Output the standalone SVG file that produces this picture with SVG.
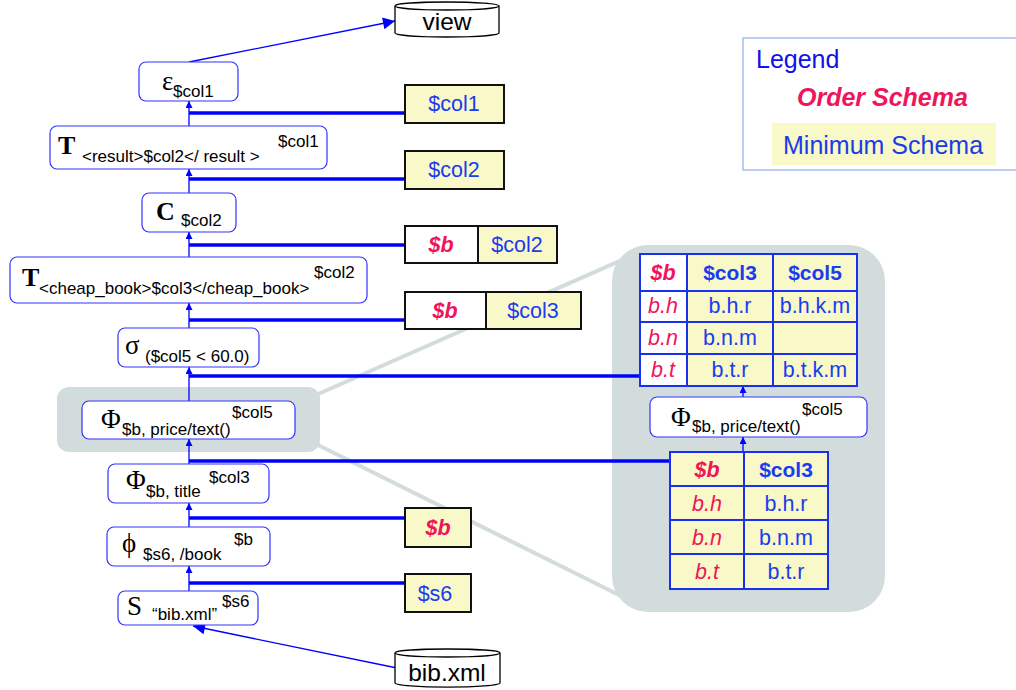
<svg xmlns="http://www.w3.org/2000/svg" width="1016" height="690" viewBox="0 0 1016 690">
<defs>
<marker id="ah" viewBox="0 0 10 10" refX="10" refY="5" markerWidth="7" markerHeight="7" markerUnits="userSpaceOnUse" orient="auto"><path d="M0,0 L10,5 L0,10 Z" fill="#0000ff"/></marker>
<marker id="ahb" viewBox="0 0 10 10" refX="10" refY="5" markerWidth="14" markerHeight="12" markerUnits="userSpaceOnUse" orient="auto"><path d="M0,0 L10,5 L0,10 Z" fill="#0000ff"/></marker>
<style>
.node{fill:#fff;stroke:#3333ff;stroke-width:1.2}
.sym{font-family:"Liberation Serif",serif;font-size:27px;fill:#000}
.symb{font-family:"Liberation Serif",serif;font-size:26px;font-weight:bold;fill:#000}
.sub{font-family:"Liberation Sans",Arial,sans-serif;font-size:17px;fill:#000}
.thin{stroke:#0000ff;stroke-width:1.3;fill:none}
.thick{stroke:#0000ff;stroke-width:3.5;fill:none}
.sbox{stroke:#111;stroke-width:2}
.yel{fill:#f8f8c8}
.wht{fill:#fff}
.bt{font-family:"Liberation Sans",Arial,sans-serif;font-size:21.5px;fill:#1a3cf0;text-anchor:middle}
.rt{font-family:"Liberation Sans",Arial,sans-serif;font-size:21.5px;font-weight:bold;font-style:italic;fill:#f0145a;text-anchor:middle}
.ri{font-family:"Liberation Sans",Arial,sans-serif;font-size:21.5px;font-style:italic;fill:#f0145a;text-anchor:middle}
.bb{font-family:"Liberation Sans",Arial,sans-serif;font-size:21px;font-weight:bold;fill:#1a3cf0;text-anchor:middle}
.tb{stroke:#1a30f0;stroke-width:2}
.gray{fill:#d2dcdc}
.cyl{fill:#fff;stroke:#000;stroke-width:1.3}
.ct{font-family:"Liberation Sans",Arial,sans-serif;font-size:24.5px;fill:#000;text-anchor:middle}
.lg{font-family:"Liberation Sans",Arial,sans-serif;font-size:25px}
</style>
</defs>
<rect width="1016" height="690" fill="#fff"/>

<g id="zoom-callout">
<line x1="316" y1="395" x2="640" y2="252" stroke="#d2dcdc" stroke-width="4"/>
<line x1="316" y1="444" x2="625" y2="598" stroke="#d2dcdc" stroke-width="4"/>
<rect class="gray" x="57" y="387" width="263" height="65" rx="12"/>
<rect class="gray" x="612" y="245" width="273" height="367" rx="36"/>
</g>

<g id="connectors">
<line class="thin" x1="189" y1="62" x2="395" y2="21" marker-end="url(#ahb)"/>
<line class="thin" x1="189" y1="126" x2="189" y2="101" marker-end="url(#ah)"/>
<line class="thin" x1="189" y1="193" x2="189" y2="169" marker-end="url(#ah)"/>
<line class="thin" x1="189" y1="257" x2="189" y2="232" marker-end="url(#ah)"/>
<line class="thin" x1="189" y1="328" x2="189" y2="303" marker-end="url(#ah)"/>
<line class="thin" x1="189" y1="401" x2="189" y2="367" marker-end="url(#ah)"/>
<line class="thin" x1="189" y1="464" x2="189" y2="439" marker-end="url(#ah)"/>
<line class="thin" x1="189" y1="527" x2="189" y2="503" marker-end="url(#ah)"/>
<line class="thin" x1="189" y1="591" x2="189" y2="566" marker-end="url(#ah)"/>
<line class="thin" x1="397" y1="668" x2="193" y2="626" marker-end="url(#ahb)"/>
<line class="thin" x1="743" y1="452" x2="743" y2="437" marker-end="url(#ah)"/>
<line class="thin" x1="743" y1="397" x2="743" y2="386" marker-end="url(#ah)"/>
<line class="thick" x1="189" y1="113" x2="405" y2="113"/>
<line class="thick" x1="189" y1="179" x2="405" y2="179"/>
<line class="thick" x1="189" y1="245" x2="405" y2="245"/>
<line class="thick" x1="189" y1="320" x2="405" y2="320"/>
<line class="thick" x1="189" y1="376" x2="640" y2="376"/>
<line class="thick" x1="189" y1="461" x2="670" y2="461"/>
<line class="thick" x1="189" y1="518" x2="405" y2="518"/>
<line class="thick" x1="189" y1="583" x2="405" y2="583"/>
</g>

<g id="view">
<path class="cyl" d="M395,6 L395,33 A52,4 0 0 0 499,33 L499,6 A52,4 0 0 0 395,6 Z"/>
<path class="cyl" d="M395,6 A52,4 0 0 0 499,6" fill="none"/>
<text class="ct" x="447" y="30">view</text>
</g>

<g id="bibxml">
<path class="cyl" d="M395,653 L395,683 A52,4 0 0 0 500,683 L500,653 A52.5,4 0 0 0 395,653 Z"/>
<path class="cyl" d="M395,653 A52.5,4 0 0 0 500,653" fill="none"/>
<text class="ct" x="447" y="681">bib.xml</text>
</g>

<g id="op-epsilon">
<rect class="node" x="139" y="62" width="99" height="39" rx="7"/>
<text class="sym" x="162" y="90" font-size="24">ε</text>
<text class="sub" x="173" y="97">$col1</text>
</g>

<g id="op-T-result">
<rect class="node" x="50" y="126" width="277" height="43" rx="7"/>
<text class="symb" x="58" y="154">T</text>
<text class="sub" x="82" y="162">&lt;result&gt;$col2&lt;/ result &gt;</text>
<text class="sub" x="278" y="147">$col1</text>
</g>

<g id="op-C">
<rect class="node" x="142" y="193" width="94" height="39" rx="7"/>
<text class="symb" x="156" y="220">C</text>
<text class="sub" x="181" y="226">$col2</text>
</g>

<g id="op-T-cheap">
<rect class="node" x="10" y="257" width="357" height="46" rx="7"/>
<text class="symb" x="22" y="286">T</text>
<text class="sub" x="39" y="294">&lt;cheap_book&gt;$col3&lt;/cheap_book&gt;</text>
<text class="sub" x="314" y="278">$col2</text>
</g>

<g id="op-sigma">
<rect class="node" x="118" y="328" width="141" height="39" rx="7"/>
<text class="sym" x="125" y="354">σ</text>
<text class="sub" x="145" y="362">($col5 &lt; 60.0)</text>
</g>

<g id="op-Phi-price">
<rect class="node" x="82" y="401" width="213" height="38" rx="7"/>
<text class="sym" x="101" y="428">Φ</text>
<text class="sub" x="122" y="435">$b, price/text()</text>
<text class="sub" x="232" y="418">$col5</text>
</g>

<g id="op-Phi-title">
<rect class="node" x="108" y="464" width="161" height="39" rx="7"/>
<text class="sym" x="126" y="489">Φ</text>
<text class="sub" x="146" y="497">$b, title</text>
<text class="sub" x="209" y="483">$col3</text>
</g>

<g id="op-phi-book">
<rect class="node" x="107" y="527" width="163" height="39" rx="7"/>
<text class="sym" x="122" y="552">ϕ</text>
<text class="sub" x="143" y="560">$s6, /book</text>
<text class="sub" x="234" y="545">$b</text>
</g>

<g id="op-S">
<rect class="node" x="118" y="591" width="140" height="34" rx="7"/>
<text class="sym" x="127" y="615">S</text>
<text class="sub" x="152" y="620">“bib.xml”</text>
<text class="sub" x="222" y="607">$s6</text>
</g>

<g id="schema-col1">
<rect class="sbox yel" x="405" y="85" width="99" height="38"/>
<text class="bt" x="454" y="111">$col1</text>
</g>
<g id="schema-col2">
<rect class="sbox yel" x="405" y="151" width="99" height="38"/>
<text class="bt" x="454" y="177">$col2</text>
</g>
<g id="schema-b-col2">
<rect class="sbox wht" x="405" y="226" width="73" height="37"/>
<rect class="sbox yel" x="478" y="226" width="79" height="37"/>
<text class="rt" x="441" y="252">$b</text>
<text class="bt" x="517" y="252">$col2</text>
</g>
<g id="schema-b-col3">
<rect class="sbox wht" x="405" y="292" width="81" height="37"/>
<rect class="sbox yel" x="486" y="292" width="95" height="37"/>
<text class="rt" x="445" y="318">$b</text>
<text class="bt" x="533" y="318">$col3</text>
</g>
<g id="schema-b">
<rect class="sbox yel" x="405" y="508" width="66" height="39"/>
<text class="rt" x="438" y="535">$b</text>
</g>
<g id="schema-s6">
<rect class="sbox yel" x="405" y="574" width="66" height="38"/>
<text class="bt" x="435" y="601">$s6</text>
</g>

<g id="table-top">
<rect class="tb wht" x="640" y="254" width="47" height="37"/>
<rect class="tb yel" x="687" y="254" width="86" height="37"/>
<rect class="tb yel" x="773" y="254" width="84" height="37"/>
<rect class="tb wht" x="640" y="291" width="47" height="31"/>
<rect class="tb yel" x="687" y="291" width="86" height="31"/>
<rect class="tb yel" x="773" y="291" width="84" height="31"/>
<rect class="tb wht" x="640" y="322" width="47" height="32"/>
<rect class="tb yel" x="687" y="322" width="86" height="32"/>
<rect class="tb yel" x="773" y="322" width="84" height="32"/>
<rect class="tb wht" x="640" y="354" width="47" height="32"/>
<rect class="tb yel" x="687" y="354" width="86" height="32"/>
<rect class="tb yel" x="773" y="354" width="84" height="32"/>
<text class="rt" x="663" y="280">$b</text>
<text class="bb" x="730" y="280">$col3</text>
<text class="bb" x="815" y="280">$col5</text>
<text class="ri" x="663" y="313">b.h</text>
<text class="bt" x="730" y="313">b.h.r</text>
<text class="bt" x="815" y="313">b.h.k.m</text>
<text class="ri" x="663" y="345">b.n</text>
<text class="bt" x="730" y="345">b.n.m</text>
<text class="ri" x="663" y="377">b.t</text>
<text class="bt" x="730" y="377">b.t.r</text>
<text class="bt" x="815" y="377">b.t.k.m</text>
</g>

<g id="op-Phi-price-detail">
<rect class="node" x="650" y="397" width="217" height="40" rx="7"/>
<text class="sym" x="671" y="426">Φ</text>
<text class="sub" x="692" y="432">$b, price/text()</text>
<text class="sub" x="802" y="415">$col5</text>
</g>

<g id="table-bottom">
<rect class="tb yel" x="670" y="452" width="74" height="34"/>
<rect class="tb yel" x="744" y="452" width="84" height="34"/>
<rect class="tb yel" x="670" y="486" width="74" height="34"/>
<rect class="tb yel" x="744" y="486" width="84" height="34"/>
<rect class="tb yel" x="670" y="520" width="74" height="34"/>
<rect class="tb yel" x="744" y="520" width="84" height="34"/>
<rect class="tb yel" x="670" y="554" width="74" height="35"/>
<rect class="tb yel" x="744" y="554" width="84" height="35"/>
<text class="rt" x="707" y="477">$b</text>
<text class="bb" x="786" y="477">$col3</text>
<text class="ri" x="707" y="511">b.h</text>
<text class="bt" x="786" y="511">b.h.r</text>
<text class="ri" x="707" y="545">b.n</text>
<text class="bt" x="786" y="545">b.n.m</text>
<text class="ri" x="707" y="579">b.t</text>
<text class="bt" x="786" y="579">b.t.r</text>
</g>

<g id="legend">
<rect x="743" y="38" width="285" height="132" fill="#fff" stroke="#a8bcf0" stroke-width="1.5"/>
<text class="lg" x="756" y="68" fill="#1010e8">Legend</text>
<text class="lg" x="797" y="106" font-weight="bold" font-style="italic" fill="#f0145a">Order Schema</text>
<rect x="772" y="123" width="224" height="42" fill="#f8f8c8"/>
<text class="lg" x="783" y="154" fill="#1a3ce8">Minimum Schema</text>
</g>
</svg>
